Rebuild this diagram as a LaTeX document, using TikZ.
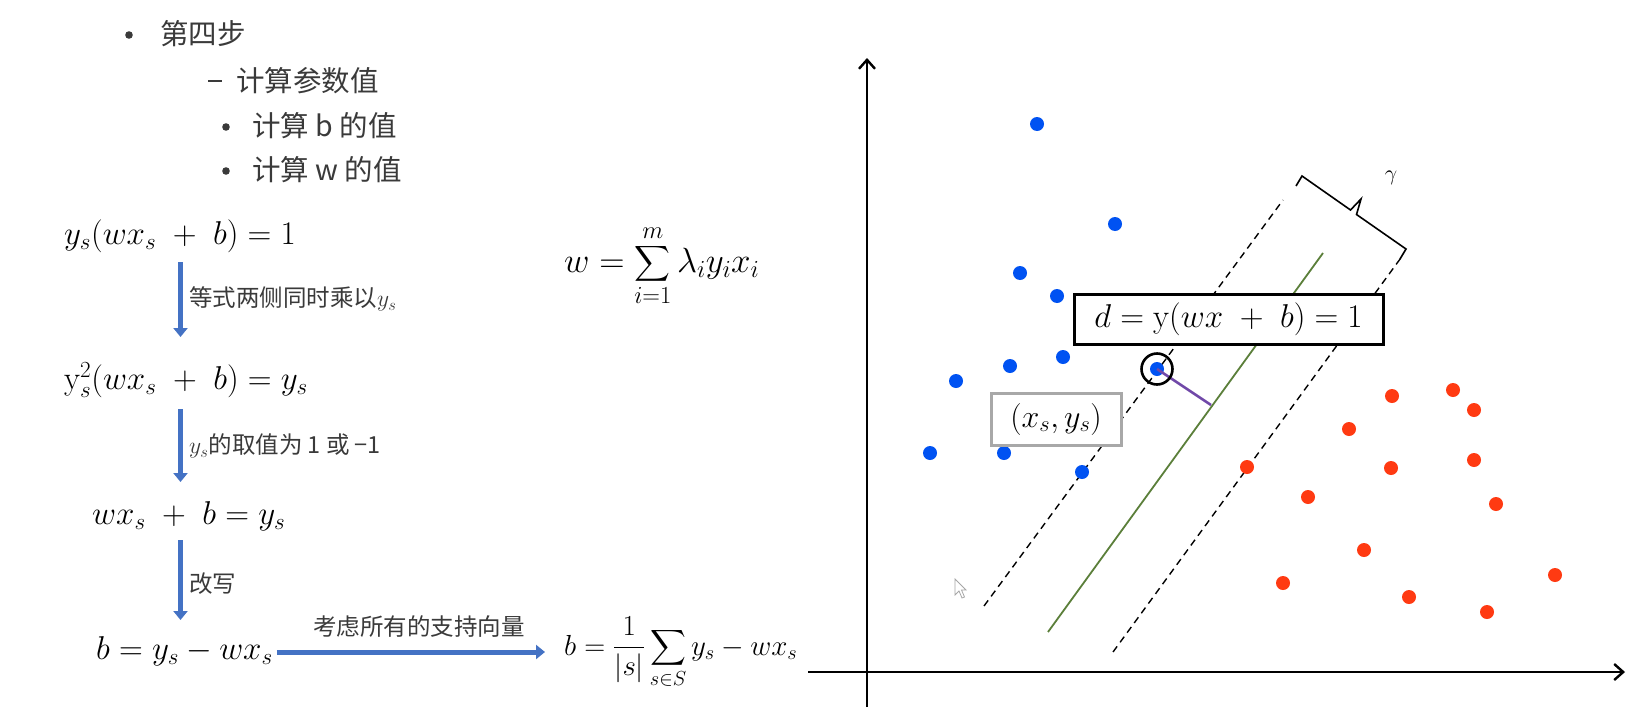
\RequirePackage{fix-cm}
\documentclass[tikz,border=0pt]{standalone}
\usepackage{exscale}
\usepackage{fontspec}
\newfontfamily\cjk{Noto Sans CJK SC}
\usetikzlibrary{arrows.meta,calc}
\definecolor{arrowblue}{HTML}{4472C4}
\definecolor{dotblue}{HTML}{0052F2}
\definecolor{dotred}{HTML}{FF3A12}
\definecolor{sepgreen}{HTML}{5B7F3A}
\definecolor{vpurple}{HTML}{7048A8}
\definecolor{txtgray}{HTML}{3A3A3A}
\definecolor{boxgray}{HTML}{A8A8A8}
\newcommand\fsz[1]{\fontsize{#1}{#1}\selectfont}
\begin{document}
\begin{tikzpicture}[x=1pt,y=-1pt,
  eq/.style={inner sep=0pt,anchor=west,font=\fsz{33}},
  bigeq/.style={inner sep=0pt,anchor=west,font=\fsz{29}},
  toptxt/.style={inner sep=0pt,anchor=west,text=txtgray,font=\cjk\fsz{28.5}},
  lbl/.style={inner sep=0pt,anchor=west,text=txtgray,font=\cjk\fsz{23.5}},
  bul/.style={fill=txtgray},
  barrow/.style={draw=arrowblue,line width=5pt,-{Triangle[length=9pt,width=14pt]}},
  bdot/.style={fill=dotblue},
  rdot/.style={fill=dotred},
  margin/.style={line width=1.4pt,dash pattern=on 7pt off 5pt},
  axis/.style={line width=2.6pt,-{Straight Barb[length=9pt,width=16pt,line width=2.4pt]}}
]
\useasboundingbox[fill=white] (0,0) rectangle (1646,707);

% ---------- top bullets ----------
\fill[bul] (129,35) circle (3.8);
\node[toptxt] (t1) at (160,34) {第四步};
\draw[txtgray,line width=2pt] (208,81) -- (222,81);
\node[toptxt] (t2) at (236,81) {计算参数值};
\fill[bul] (226,127) circle (3.8);
\node[toptxt] (t3) at (252,126) {计算 b 的值};
\fill[bul] (226,171) circle (3.8);
\node[toptxt] (t4) at (252,170) {计算 w 的值};

% ---------- derivation ----------
\node[eq] (e1) at (64,236) {$y_s(wx_s\;+\;b)=1$};
\node[eq] (e2) at (64,380) {$\mathrm{y}_s^2(wx_s\;+\;b)=y_s$};
\node[eq] (e3) at (92,516) {$wx_s\;+\;b=y_s$};
\node[eq] (e4) at (96,651) {$b=y_s-wx_s$};
\node[bigeq] (e5) at (564,653) {$\displaystyle b=\frac{1}{|s|}\sum_{s\in S}y_s-wx_s$};
\node[bigeq,font=\fsz{35}] (ew) at (564,266) {$\displaystyle w=\sum_{i=1}^{m}\lambda_i y_i x_i$};

\coordinate (a1s) at (180.5,262); \coordinate (a1e) at (180.5,337);
\coordinate (a2s) at (180.5,409); \coordinate (a2e) at (180.5,482);
\coordinate (a3s) at (180.5,540); \coordinate (a3e) at (180.5,620);
\draw[barrow] (a1s) -- (a1e);
\draw[barrow] (a2s) -- (a2e);
\draw[barrow] (a3s) -- (a3e);
\node[lbl] (l1) at (189,299) {等式两侧同时乘以$y_s$};
\node[lbl] (l2) at (189,446) {$y_s$的取值为 1 或 −1};
\node[lbl] (l3) at (189,584) {改写};
\draw[barrow] ([xshift=4pt]e4.east |- 0,652) -- (545,652);
\node[lbl] (l4) at (313,627) {考虑所有的支持向量};

% ---------- plot ----------
\draw[axis] (867,707) -- (867,58);
\draw[axis] (808,672) -- (1625,672);

% margins and separator
\draw[margin] (984,606) -- (1283,200);
\draw[margin] (1113,652) -- (1403,255);
\draw[sepgreen,line width=1.8pt] (1048,632) -- (1323,253);

% gamma bracket
\draw[line width=1.6pt,line join=miter]
  (1296,186) -- (1302,176) -- (1350.5,210) -- (1361,199) -- (1356.5,214.5) -- (1406,249) -- (1400,259);
\node[inner sep=0pt,font=\fsz{22}] (gam) at (1391,178) {$\gamma$};

% blue points
\foreach \p in {(1037,124),(1115,224),(1020,273),(1057,296),(1063,357),(1010,366),(956,381),(930,453),(1004,453),(1082,472),(1157,369)}
  \fill[bdot] \p circle (7);
% red points
\foreach \p in {(1392,396),(1453,390),(1474,410),(1349,429),(1247,467),(1391,468),(1474,460),(1308,497),(1496,504),(1364,550),(1555,575),(1283,583),(1409,597),(1487,612)}
  \fill[rdot] \p circle (7);

% support vector
\coordinate (sv) at (1157,369);
\coordinate (foot) at (1211,405);
\draw[vpurple,line width=2.6pt] (sv) -- (foot);
\draw[line width=2.6pt] (sv) circle (15.5);

% boxes
\node[draw=black,line width=3pt,fill=white,minimum width=309pt,minimum height=50pt,inner sep=0pt,font=\fsz{33}] (dbox) at (1228.5,319) {$d=\mathrm{y}(wx\;+\;b)=1$};
\node[draw=boxgray,line width=3pt,fill=white,minimum width=130pt,minimum height=52pt,inner sep=0pt,font=\fsz{32}] (pbox) at (1056,419) {$(x_s,y_s)$};

% cursor
\draw[gray!70,line width=0.8pt,fill=white] (955,579) -- (955,595) -- (959,591) -- (962,598) -- (964.5,597) -- (961.5,590) -- (966,590) -- cycle;
\end{tikzpicture}
\end{document}
